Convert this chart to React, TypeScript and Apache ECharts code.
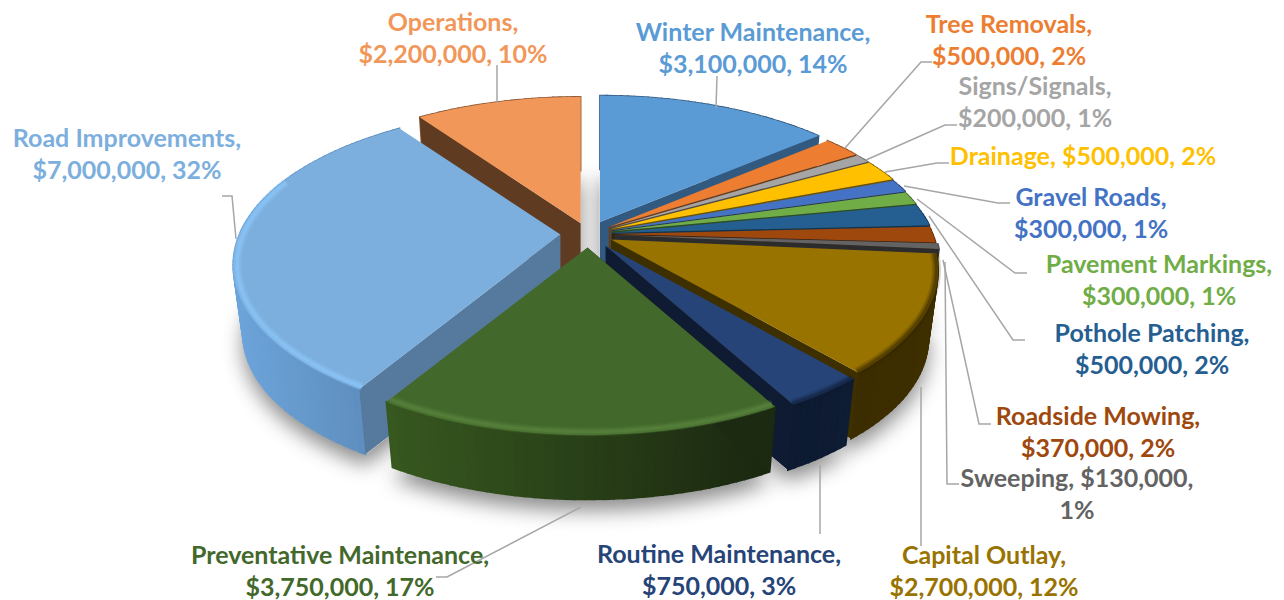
import React, { useEffect, useRef } from "react";
import * as echarts from "echarts";

// ---- data (clockwise from 12 o'clock)
const categories = ["Winter Maintenance", "Tree Removals", "Signs/Signals", "Drainage", "Gravel Roads", "Pavement Markings", "Pothole Patching", "Roadside Mowing", "Sweeping", "Capital Outlay", "Routine Maintenance", "Preventative Maintenance", "Road Improvements", "Operations"];
const amounts = [3100000, 500000, 200000, 500000, 300000, 300000, 500000, 370000, 130000, 2700000, 750000, 3750000, 7000000, 2200000];
const percents = [14, 2, 1, 2, 1, 1, 2, 2, 1, 12, 3, 17, 32, 10];

// ---- styles
const topColors = ["#5b9bd5", "#ed7d31", "#a5a5a5", "#ffc000", "#4472c4", "#70ad47", "#255e91", "#9e480e", "#636363", "#997300", "#264478", "#43682b", "#7cafdd", "#f1975a"];
const faceColors = ["#325a80", "#6b3a16", "#4d4d4d", "#6e5400", "#1f3560", "#2f4d1d", "#123350", "#3f1c05", "#2c2c2c", "#3e2f00", "#0e1b33", "#1b2a11", "#557a9e", "#5f3b22"];
const wallStops: [string, string][] = [["#325a80", "#325a80"], ["#8c4a1c", "#8c4a1c"], ["#666666", "#666666"], ["#7e6000", "#7e6000"], ["#2a4678", "#2a4678"], ["#44682b", "#44682b"], ["#163a58", "#163a58"], ["#5e2a08", "#5e2a08"], ["#3a3a3a", "#3a3a3a"], ["#3c2d00", "#3e2f00"], ["#0d1a31", "#0e1c34"], ["#37581f", "#1a2710"], ["#6ca4da", "#5b88b6"], ["#8c5934", "#8c5934"]];
const rimBands: Record<number, { color: string; r: number; until?: number }> = {
  12: { color: "#8fcbff", r: 0.988, until: 292 },
  11: { color: "#5f8a42", r: 0.985 },
  9: { color: "#2f2400", r: 0.995 },
  10: { color: "#0e1b33", r: 0.995 },
};
const drawOrder = [13, 0, 1, 2, 3, 4, 5, 6, 7, 8, 12, 9, 10, 11];
const labelBoxes: [number, number][] = [[753, 47], [1009, 39], [1035, 101], [1083, 155], [1091, 212], [1159, 279], [1152, 348], [1098, 431], [1077, 493], [984, 570], [719, 569], [340, 570], [127, 153], [453, 37]];
const leaders: [number, number][][] = [
  [[717, 76], [716, 108]],
  [[932, 62], [921, 62], [845, 148]],
  [[957, 125], [945, 125], [866, 160]],
  [[949, 163], [937, 163], [885, 172]],
  [[1010, 203], [998, 203], [904, 186]],
  [[1027, 273], [1015, 273], [917, 199]],
  [[1025, 340], [1013, 340], [929, 216]],
  [[991, 424], [979, 424], [943, 260]],
  [[959, 484], [947, 484], [945, 262]],
  [[921, 546], [921, 387]],
  [[820, 534], [820, 465]],
  [[436, 577], [447, 577], [581, 507]],
  [[222, 196], [232, 196], [236, 239]],
  [[497, 65], [497, 103]],
];
const CX = 588, CY = 234, RX = 321, RY = 151, PERSP = 0.195, DROP = 70, BOTTOM_SCALE = 0.97, LINE_GAP = 32;
const EXPLODE = [0.088, 0.08, 0.08, 0.08, 0.078, 0.076, 0.075, 0.074, 0.08, 0.08, 0.095, 0.09, 0.086, 0.075];

const total = amounts.reduce((a, b) => a + b, 0);
const starts: number[] = [];
amounts.reduce((acc, v, i) => { starts[i] = (acc / total) * 360; return acc + v; }, 0);
const angleOf = (i: number) => [starts[i], starts[i] + (amounts[i] / total) * 360];

const money = (v: number) => "$" + v.toLocaleString("en-US");
const labelLines = (i: number) => {
  const c = categories[i], m = money(amounts[i]), p = percents[i] + "%";
  if (c === "Drainage") return [`${c}, ${m}, ${p}`];
  if (c === "Sweeping") return [`${c}, ${m},`, p];
  return [`${c},`, `${m}, ${p}`];
};

function apexOf(i: number): [number, number] {
  const [a, b] = angleOf(i);
  const mid = (((a + b) / 2) * Math.PI) / 180;
  return [CX + RX * EXPLODE[i] * Math.sin(mid), CY - RY * EXPLODE[i] * Math.cos(mid)];
}
function pt(i: number, deg: number, r: number, bottom: boolean): number[] {
  const [ax, ay] = apexOf(i);
  const t = (deg * Math.PI) / 180;
  const u = Math.sin(t) * r, v = -Math.cos(t) * r;
  const s = 1 / (1 - PERSP * v);
  const f = bottom ? BOTTOM_SCALE : 1;
  return [ax + RX * u * s * f, ay + (bottom ? DROP : 0) + RY * v * s * f];
}
function arc(i: number, a: number, b: number, r: number, bottom: boolean): number[][] {
  const n = Math.max(2, Math.ceil((b - a) / 1.5));
  const out: number[][] = [];
  for (let k = 0; k <= n; k++) out.push(pt(i, a + ((b - a) * k) / n, r, bottom));
  return out;
}

function renderSlice(params: any, api: any) {
  const i = drawOrder[params.dataIndex];
  const a = api.value(1), b = api.value(2);
  const [ax, ay] = apexOf(i);
  const children: any[] = [];
  const topArc = arc(i, a, b, 1, false);
  const botArc = arc(i, a, b, 1, true);
  const xs = topArc.map((p) => p[0]);
  const minX = Math.min(...xs), maxX = Math.max(...xs);
  for (let k = 0; k < topArc.length - 1; k++) {
    const mx = (topArc[k][0] + topArc[k + 1][0]) / 2;
    const c = echarts.color.lerp(maxX > minX ? (mx - minX) / (maxX - minX) : 0, wallStops[i]);
    children.push({
      type: "polygon",
      shape: { points: [topArc[k], topArc[k + 1], botArc[k + 1], botArc[k]] },
      style: { fill: c, stroke: c, lineWidth: 1.6 },
    });
  }
  const faceAngle = (a + b) / 2 < 180 ? b : a;
  children.push({
    type: "polygon",
    shape: { points: [[ax, ay], pt(i, faceAngle, 1, false), pt(i, faceAngle, 1, true), [ax, ay + DROP]] },
    style: { fill: faceColors[i] },
  });
  children.push({
    type: "polygon",
    shape: { points: [[ax, ay], ...topArc] },
    style: { fill: topColors[i] },
  });
  const band = rimBands[i];
  if (band) {
    const pts = arc(i, a, band.until ?? b, band.r, false);
    [[9, 0.18], [6, 0.25], [3, 0.4]].forEach(([w, o]) => {
      children.push({
        type: "polyline",
        shape: { points: pts },
        style: { fill: "none", stroke: band.color, lineWidth: w, opacity: o },
      });
    });
  }
  return { type: "group", children };
}

function renderShadow(params: any, api: any) {
  const i = drawOrder[params.dataIndex];
  const a = api.value(1), b = api.value(2);
  const [ax, ay] = apexOf(i);
  return {
    type: "polygon",
    shape: { points: [[ax, ay + DROP], ...arc(i, a, b, 1, true)] },
    style: { fill: "#e6e6e6", shadowBlur: 20, shadowColor: "rgba(0,0,0,0.45)", shadowOffsetY: 11 },
  };
}

export default function App() {
  const ref = useRef<HTMLDivElement>(null);
  useEffect(() => {
    const chart = echarts.init(ref.current!, null, { renderer: "svg" });
    const data = drawOrder.map((i) => {
      const [a, b] = angleOf(i);
      return { name: categories[i], value: [amounts[i], a, b] };
    });
    chart.setOption({
      animation: false,
      backgroundColor: "#fff",
      series: [
        { type: "custom", coordinateSystem: "none", z: 1, silent: true, renderItem: renderShadow, data },
        { type: "custom", coordinateSystem: "none", z: 2, silent: true, renderItem: renderSlice, data },
      ],
      graphic: [
        ...leaders.map((points) => ({
          type: "polyline",
          z: 5,
          silent: true,
          shape: { points },
          style: { fill: "none", stroke: "#a6a6a6", lineWidth: 1.5 },
        })),
        ...categories.flatMap((_, i) => {
          const lines = labelLines(i);
          return lines.map((line, k) => ({
            type: "text",
            z: 6,
            silent: true,
            x: labelBoxes[i][0],
            y: labelBoxes[i][1] + (k - (lines.length - 1) / 2) * LINE_GAP,
            style: {
              text: line,
              fill: i === 8 ? "#636363" : topColors[i],
              font: "bold 25px Lato",
              align: "center",
              verticalAlign: "middle",
            },
          }));
        }),
      ],
    });
    return () => chart.dispose();
  }, []);
  return <div ref={ref} style={{ position: "fixed", left: 0, top: 0, width: 1284, height: 600 }} />;
}
